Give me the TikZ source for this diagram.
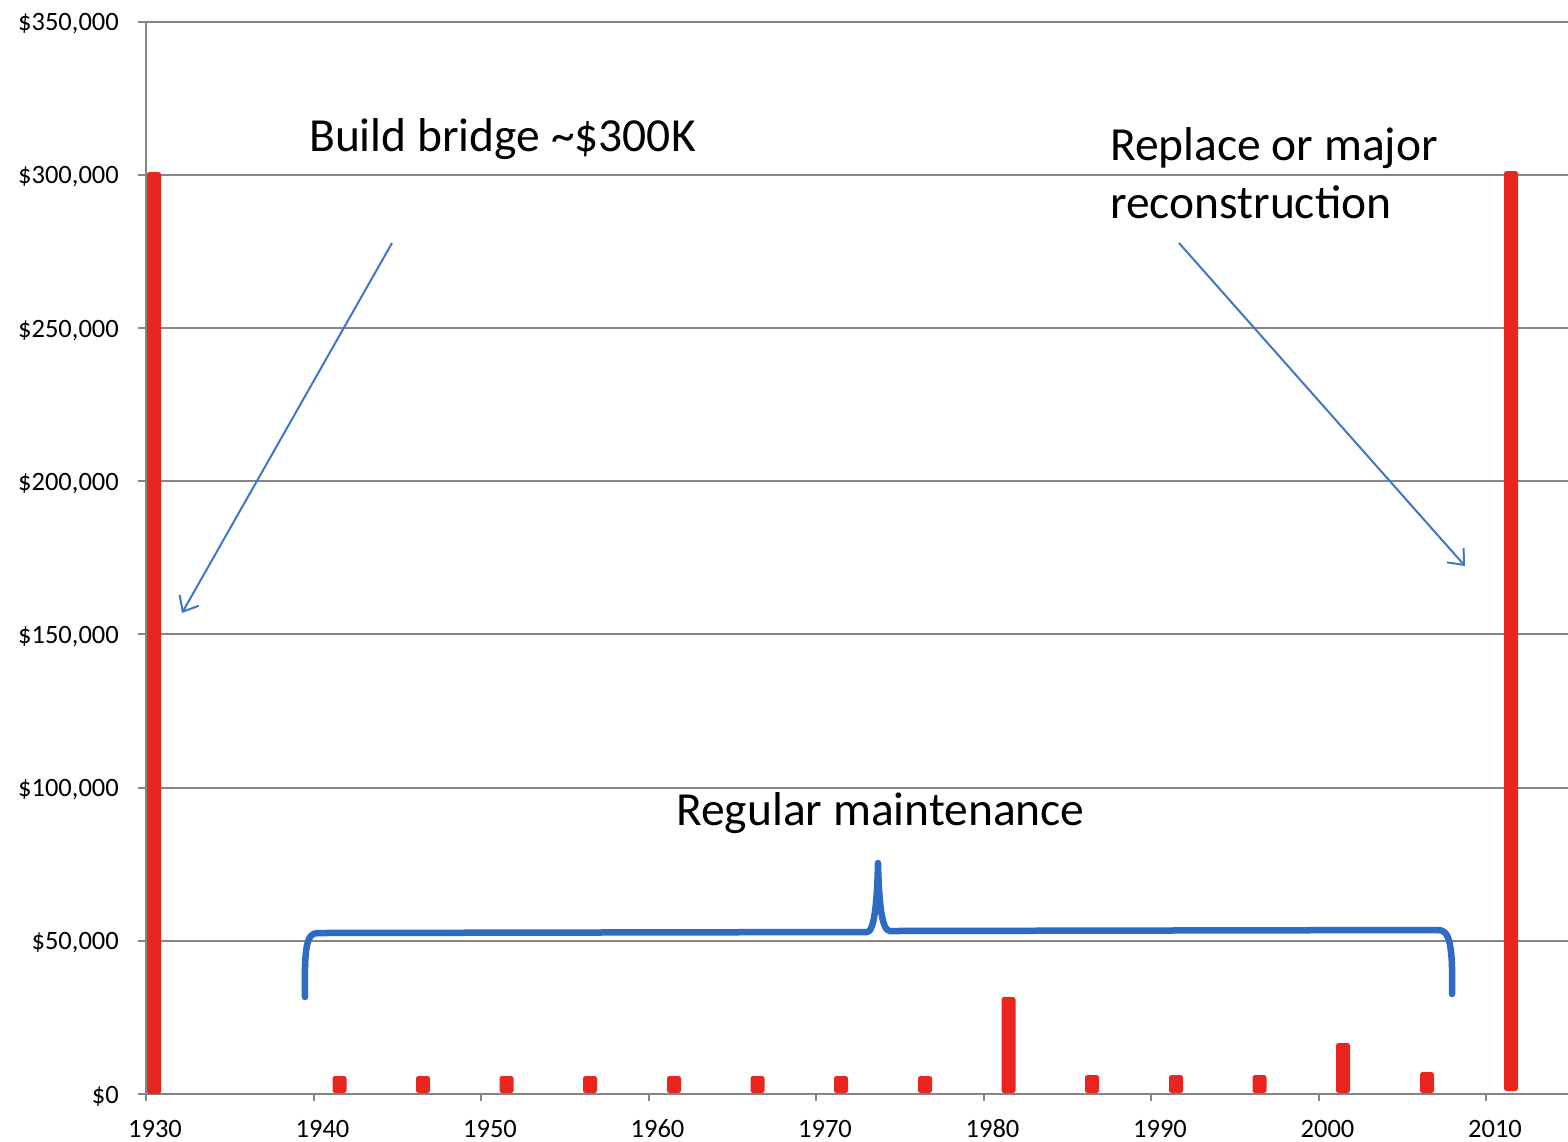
\documentclass[tikz,border=0pt]{standalone}
\usepackage{fontspec}
\setmainfont{Carlito}
\usetikzlibrary{arrows.meta}
\definecolor{barred}{HTML}{E8261F}
\definecolor{bracebl}{HTML}{2D6BC5}
\definecolor{arrowbl}{HTML}{3F76CC}
\definecolor{gridgr}{HTML}{858585}
\begin{document}
\begin{tikzpicture}[x=1pt,y=-1pt,
  gridline/.style={gridgr, line width=2pt},
  costbar/.style={fill=barred, draw=none, rounded corners=2.5pt},
  ylab/.style={anchor=base east, inner sep=0, font=\fontsize{26.5}{31}\selectfont},
  xlab/.style={anchor=base, inner sep=0, font=\fontsize{26.5}{31}\selectfont},
  note/.style={anchor=base west, inner sep=0, font=\fontsize{47.5}{57}\selectfont},
  pointer/.style={arrowbl, line width=2pt, -{Straight Barb[length=13pt,width=22pt]}},
  bracepath/.style={bracebl, line width=6.5pt, line cap=round, line join=round}]

\fill[white] (0,0) rectangle (1568,1141);
\useasboundingbox (0,0) rectangle (1568,1141);

% gridlines and y labels
\foreach \k/\lab in {0/{\$0},1/{\$50,000},2/{\$100,000},3/{\$150,000},4/{\$200,000},5/{\$250,000},6/{\$300,000},7/{\$350,000}}{
  \pgfmathsetmacro{\yy}{1094-153.2*\k}
  \pgfmathsetmacro{\by}{\yy+9}
  \draw[gridline] (138,\yy) -- (1568,\yy);
  \node[ylab] (ylab\k) at (119,\by) {\lab};
}

% y axis
\draw[gridline] (146,21.6) -- (146,1101);

% x ticks and labels
\foreach \i in {0,...,8}{
  \pgfmathsetmacro{\xx}{146+167.5*\i}
  \pgfmathsetmacro{\lx}{155+167.5*\i}
  \pgfmathtruncatemacro{\yr}{1930+10*\i}
  \draw[gridline] (\xx,1094) -- (\xx,1101);
  \node[xlab] (xlab\i) at (\lx,1137) {\yr};
}

% bars
\path[costbar] (147,172) rectangle (161,1094);
\path[costbar] (1504,171) rectangle (1518,1091);
\foreach \cx/\top in {339.5/1076,423/1076,506.5/1076,590/1076,674/1076,757.5/1076,841/1076,925/1076,1008.5/997,1092/1075,1176/1075,1259.5/1075,1343/1043,1427/1072}{
  \path[costbar] (\cx-7,\top) rectangle (\cx+7,1093);
}

% annotations
\node[note] (build) at (309,151) {Build bridge \textasciitilde\$300K};
\node[note] (rep1) at (1110,160) {Replace or major};
\node[note] (rep2) at (1110,218) {reconstruction};
\node[note] (maint) at (676,825) {Regular maintenance};

% arrows
\coordinate (bbTail) at (392,243);
\coordinate (bbHead) at (182,613);
\coordinate (rpTail) at (1179,243);
\coordinate (rpHead) at (1465,566);
\draw[pointer] (bbTail) -- (bbHead);
\draw[pointer] (rpTail) -- (rpHead);

% brace
\draw[bracepath] (305,997) .. controls (304,945) and (307,933) .. (318,933)
  -- (867,932) .. controls (874,932) and (877,905) .. (878,863)
  .. controls (879,905) and (882,931) .. (890,931)
  -- (1438,930) .. controls (1449,930) and (1453,942) .. (1452,994);
\end{tikzpicture}
\end{document}
